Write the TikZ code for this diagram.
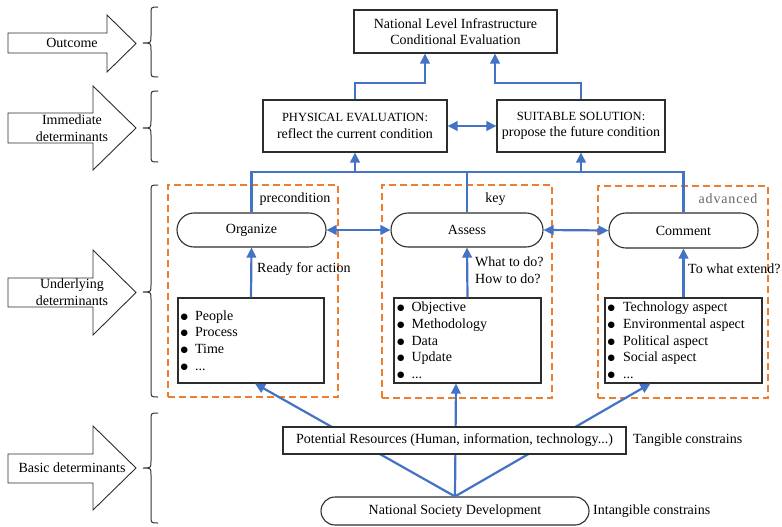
\documentclass[tikz,border=0pt]{standalone}
\usepackage{fontspec}
\setmainfont{Liberation Serif}
\newfontfamily\dotfont{DejaVu Sans}
\usetikzlibrary{arrows.meta,calc}

\definecolor{flowblue}{RGB}{68,114,196}
\definecolor{dashorange}{RGB}{237,125,49}
\definecolor{edgegray}{RGB}{45,45,45}

\tikzset{
  txt/.style={font=\fontsize{14}{16.7}\selectfont, inner sep=0pt},
  box/.style={draw=edgegray, line width=1.1pt, fill=white, txt, align=center},
  pill/.style={box, rounded corners=17pt},
  listbox/.style={draw=edgegray, line width=1.1pt, fill=white},
  groupbox/.style={draw=dashorange, line width=1.4pt, dash pattern=on 7pt off 4pt},
  flow/.style={draw=flowblue, line width=2.2pt},
  arr/.style={flow, -{Triangle[length=10pt,width=9.5pt]}},
  arrr/.style={flow, {Triangle[length=10pt,width=9.5pt]}-{Triangle[length=10pt,width=9.5pt]}},
  bigarrow/.style={draw=edgegray, line width=0.9pt, fill=white},
  bracestyle/.style={draw=black!80, line width=1pt},
}

% list bullet: a solid round dot
\newcommand{\itembul}{\raisebox{1pt}{\dotfont\fontsize{8.5}{8.5}\selectfont ●}}

% curly brace opening to the right: top y, tip y, bottom y
\newcommand{\drawcurly}[3]{%
  \draw[bracestyle] (158,#1) .. controls (151,#1) .. (151,#1+7)
    -- (151,#2-7) .. controls (151,#2) .. (143,#2)
    .. controls (151,#2) .. (151,#2+7)
    -- (151,#3-7) .. controls (151,#3) .. (158,#3);}

\begin{document}
\begin{tikzpicture}[x=1pt,y=-1pt]
\useasboundingbox (0,0) rectangle (782,527);

% ---- level arrows on the left ----
\draw[bigarrow] (8,33) -- (107,33) -- (107,15) -- (136,43.5) -- (107,72) -- (107,53) -- (8,53) -- cycle;
\node[txt] (lvlA) at (72,43) {Outcome};
\draw[bigarrow] (8,113) -- (93,113) -- (93,86) -- (136,128) -- (93,170) -- (93,143) -- (8,143) -- cycle;
\node[txt, align=center] (lvlB) at (72,128) {Immediate\\determinants};
\draw[bigarrow] (8,278) -- (93,278) -- (93,250) -- (136,292.5) -- (93,335) -- (93,307) -- (8,307) -- cycle;
\node[txt, align=center] (lvlC) at (72,292) {Underlying\\determinants};
\draw[bigarrow] (8,454) -- (93,454) -- (93,426) -- (136,468) -- (93,510) -- (93,483) -- (8,483) -- cycle;
\node[txt] (lvlD) at (72,468) {Basic determinants};

% ---- braces ----
\drawcurly{7}{43}{77}
\drawcurly{91}{128}{162}
\drawcurly{185}{292}{397}
\drawcurly{413}{468}{523}

% ---- outcome and immediate determinants ----
\node[box, minimum width=203pt, minimum height=43pt] (top) at (455.5,31.5)
  {National Level Infrastructure\\Conditional Evaluation};
\node[box, minimum width=184pt, minimum height=52pt] (phys) at (355,126)
  {{\fontsize{12.5}{15}\selectfont PHYSICAL EVALUATION:}\\reflect the current condition};
\node[box, minimum width=168pt, minimum height=52pt] (suit) at (581,126)
  {{\fontsize{12.5}{15}\selectfont SUITABLE SOLUTION:}\\propose the future condition};

% ---- underlying determinants: groups ----
\node[groupbox, minimum width=170pt, minimum height=212pt] (grpL) at (253,291) {};
\node[groupbox, minimum width=170pt, minimum height=213pt] (grpM) at (467,291.5) {};
\node[groupbox, minimum width=170pt, minimum height=212pt] (grpR) at (683,292) {};

\node[pill, minimum width=149pt, minimum height=34pt] (org) at (251.5,230) {Organize};
\node[pill, minimum width=152pt, minimum height=34pt] (ass) at (467,230) {Assess};
\node[pill, minimum width=149pt, minimum height=35pt] (com) at (683.5,230.5) {Comment};

\node[txt] (lblL) at (295,199) {precondition};
\node[txt] (lblM) at (495.5,199) {key};
\node[txt, text=black!60] (lblR) at (728,199) {\addfontfeature{LetterSpace=6}advanced};

\node[listbox, minimum width=146pt, minimum height=85pt] (listL) at (251,340.5) {};
\node[listbox, minimum width=147pt, minimum height=85pt] (listM) at (467.5,340.5) {};
\node[listbox, minimum width=157pt, minimum height=85pt] (listR) at (683.5,340.5) {};

\node[txt, anchor=west, align=left] (itemsL) at (180.5,340.5)
  {\itembul\hspace{7pt}People\\\itembul\hspace{7pt}Process\\\itembul\hspace{7pt}Time\\\itembul\hspace{7pt}...};
\node[txt, anchor=west, align=left] (itemsM) at (397,340.5)
  {\itembul\hspace{7pt}Objective\\\itembul\hspace{7pt}Methodology\\\itembul\hspace{7pt}Data\\\itembul\hspace{7pt}Update\\\itembul\hspace{7pt}...};
\node[txt, anchor=west, align=left] (itemsR) at (607.5,340.5)
  {\itembul\hspace{8pt}Technology aspect\\\itembul\hspace{8pt}Environmental aspect\\\itembul\hspace{8pt}Political aspect\\\itembul\hspace{8pt}Social aspect\\\itembul\hspace{8pt}...};

\node[txt, anchor=west] (whyL) at (257,269) {Ready for action};
\node[txt, anchor=west, align=left] (whyM) at (475,270.5) {What to do?\\How to do?};
\node[txt, anchor=west] (whyR) at (688,269) {To what extend?};

% ---- basic determinants ----
\node[pill, rounded corners=14pt, minimum width=268pt, minimum height=28pt] (nsd) at (455,511)
  {National Society Development};

% feeds from national development into each group (behind the resources box)
\draw[arr] (nsd.north) -- ($(listL.south)+(4,0)$);
\draw[arr] (nsd.north) -- ($(listM.south)+(-11.5,0)$);
\draw[arr] (nsd.north) -- ($(listR.south)+(-33,0)$);

\node[box, minimum width=343pt, minimum height=27pt] (res) at (454.5,440.5)
  {Potential Resources (Human, information, technology...)};
\node[txt, anchor=west] (tang) at (633,440) {Tangible constrains};
\node[txt, anchor=west] (intang) at (593,511) {Intangible constrains};

% ---- connectors ----
\draw[arr] (listL.north) -- (org.south);
\draw[arr] (listM.north) -- (ass.south);
\draw[arr] (listR.north) -- (com.south);

\draw[arrr] (org.east) -- (ass.west);
\draw[arrr] (ass.east) -- (com.west);

\coordinate (bus) at (0,172);
\draw[flow] (org.north) |- (com.north |- bus) -- (com.north);
\draw[flow] (ass.north) -- (ass.north |- bus);
\draw[arr] (phys.south |- bus) -- (phys.south);
\draw[arr] (suit.south |- bus) -- (suit.south);

\draw[arrr] (phys.east) -- (suit.west);

\coordinate (jl) at (425,83);
\coordinate (jr) at (495,83);
\draw[arr] (phys.north) |- (jl) -- (jl |- top.south);
\draw[arr] (suit.north) |- (jr) -- (jr |- top.south);
\end{tikzpicture}
\end{document}
